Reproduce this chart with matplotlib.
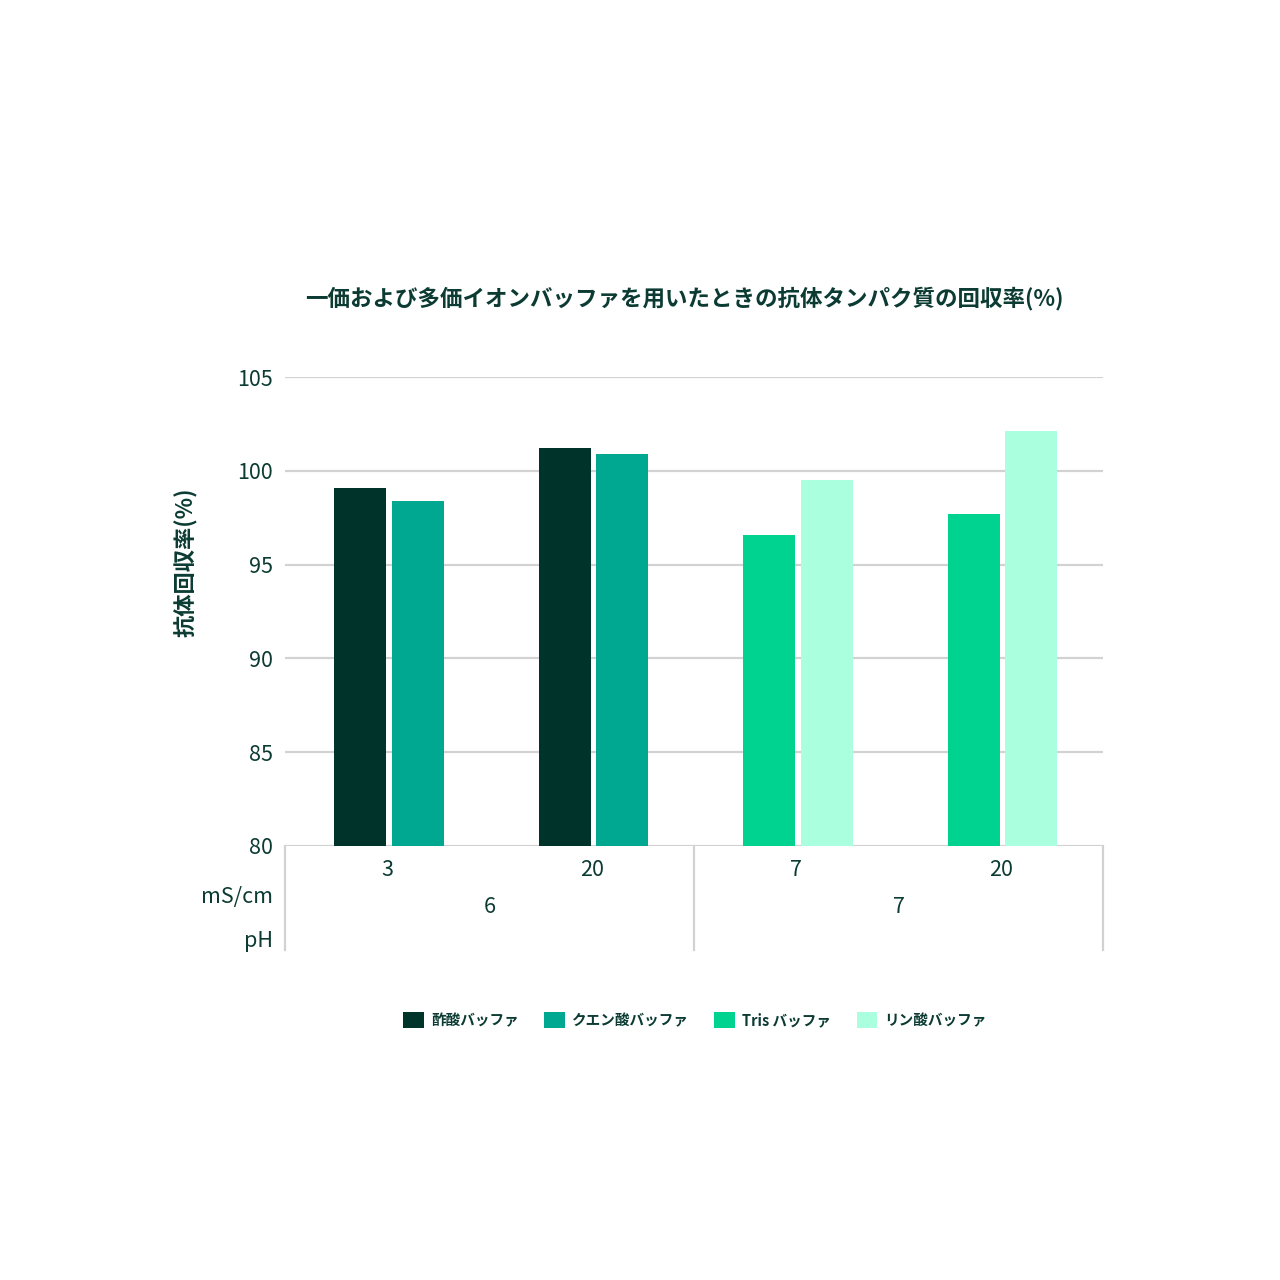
import matplotlib
matplotlib.use("Agg")
import matplotlib.pyplot as plt
import numpy as np
from matplotlib.patches import Patch
import matplotlib.transforms as mtransforms

plt.rcParams['font.family'] = ['Noto Sans CJK JP', 'DejaVu Sans']

# data
cond_labels = ["3", "20", "7", "20"]        # mS/cm
ph_labels = ["6", "7"]                      # pH, two categories each
series = ["酢酸バッファ", "クエン酸バッファ", "Tris バッファ", "リン酸バッファ"]
acetate = [99.1, 101.2, None, None]
citrate = [98.4, 100.9, None, None]
tris = [None, None, 96.6, 97.7]
phosphate = [None, None, 99.5, 102.1]
colors = ["#00342b", "#00a891", "#00d28f", "#aaffde"]
yticks = [80, 85, 90, 95, 100, 105]

txt = "#0b3b32"
grid_c = "#d2d2d2"

fig = plt.figure(figsize=(12.8, 12.8), dpi=100)
ax = fig.add_axes([285/1280, 1 - 846/1280, 818/1280, 469/1280])

x = np.arange(len(cond_labels)) + 0.5
w = 0.255
# left slot / right slot per category
left_vals = [a if a is not None else t for a, t in zip(acetate, tris)]
right_vals = [c if c is not None else p for c, p in zip(citrate, phosphate)]
left_cols = [colors[0] if a is not None else colors[2] for a in acetate]
right_cols = [colors[1] if c is not None else colors[3] for c in citrate]

ax.bar(x - 0.132, np.array(left_vals) - 80, w, bottom=80, color=left_cols, zorder=3)
ax.bar(x + 0.150, np.array(right_vals) - 80, w, bottom=80, color=right_cols, zorder=3)

ax.set_xlim(0, 4)
ax.set_ylim(80, 105)
ax.set_yticks(yticks)
ax.set_yticklabels([str(v) for v in yticks], fontsize=15.5, color=txt)
ax.set_xticks(x)
ax.set_xticklabels(cond_labels, fontsize=15.5, color=txt)
ax.tick_params(axis='both', length=0)
ax.tick_params(axis='y', pad=9)
ax.tick_params(axis='x', pad=9)
for s in ax.spines.values():
    s.set_visible(False)
for v in yticks:
    ax.axhline(v, color=grid_c, lw=1.6, zorder=1)

# group separators under the axis
trans = mtransforms.blended_transform_factory(ax.transData, ax.transAxes)
for xs in [0, 2, 4]:
    ax.plot([xs, xs], [0, -0.222], transform=trans, color=grid_c, lw=1.6, clip_on=False)
for i, lab in enumerate(ph_labels):
    ax.text(1 + 2*i, -0.13, lab, transform=trans, ha='center', va='center',
            fontsize=15.5, color=txt)

fig.text(273/1280, 1 - 897/1280, "mS/cm", ha='right', va='center', fontsize=15.5, color=txt)
fig.text(273/1280, 1 - 941/1280, "pH", ha='right', va='center', fontsize=15.5, color=txt)

fig.text(684/1280, 1 - 298/1280, "一価および多価イオンバッファを用いたときの抗体タンパク質の回収率(%)",
         ha='center', va='center', fontsize=16.2, fontweight='bold', color=txt)
fig.text(186/1280, 1 - 562/1280, "抗体回収率(%)", rotation=90, ha='center', va='center',
         fontsize=16, fontweight='bold', color=txt)

handles = [Patch(facecolor=c, label=s) for c, s in zip(colors, series)]
fig.legend(handles=handles, loc='center', bbox_to_anchor=(695/1280, 1 - 1020/1280),
           ncol=4, frameon=False, handlelength=1.4, handleheight=1.4,
           handletextpad=0.5, columnspacing=1.75, prop={'weight': 'bold', 'size': 10.5})
for t in fig.legends[0].get_texts():
    t.set_color(txt)

fig.savefig("out.png", dpi=100, facecolor="white")
